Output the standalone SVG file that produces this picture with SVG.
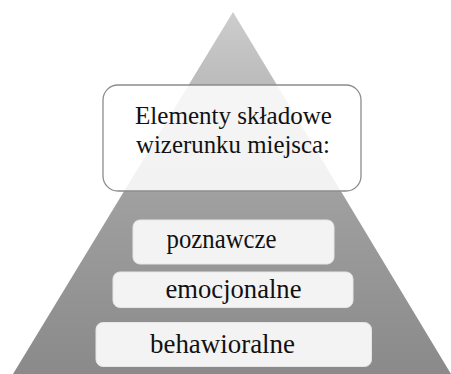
<svg xmlns="http://www.w3.org/2000/svg" width="451" height="374" viewBox="0 0 451 374">
<defs>
<linearGradient id="pg" x1="0" y1="0" x2="0" y2="1">
<stop offset="0" stop-color="#cdcdcd"/>
<stop offset="0.5" stop-color="#a0a0a0"/>
<stop offset="1" stop-color="#8a8a8a"/>
</linearGradient>
<style>
.t{font-family:"Liberation Serif","Times New Roman",serif;fill:#111;}
.big{font-size:25.5px;}
.lvl{font-size:27px;}
.lbox{fill:#f3f3f3;stroke:#e6e6e6;stroke-width:1;}
</style>
</defs>
<g id="pyramid">
<polygon points="233,12 13,374 451,374" fill="url(#pg)"/>
</g>
<g id="title">
<rect x="103" y="85" width="258" height="106" rx="15" ry="15" fill="#ffffff" fill-opacity="0.86" stroke="#8c8c8c" stroke-width="1.3"/>
<text class="t big" x="135" y="124" textLength="197" lengthAdjust="spacingAndGlyphs">Elementy składowe</text>
<text class="t big" x="136" y="153" textLength="194" lengthAdjust="spacingAndGlyphs">wizerunku miejsca:</text>
</g>
<g id="poznawcze">
<rect class="lbox" x="133" y="220" width="201" height="44" rx="7" ry="7"/>
<text class="t lvl" x="166.5" y="248" textLength="110" lengthAdjust="spacingAndGlyphs">poznawcze</text>
</g>
<g id="emocjonalne">
<rect class="lbox" x="113" y="272" width="240" height="35.5" rx="7" ry="7"/>
<text class="t lvl" x="165.5" y="298" textLength="136" lengthAdjust="spacingAndGlyphs">emocjonalne</text>
</g>
<g id="behawioralne">
<rect class="lbox" x="96" y="322.5" width="275.5" height="44" rx="7" ry="7"/>
<text class="t lvl" x="150" y="353" textLength="145" lengthAdjust="spacingAndGlyphs">behawioralne</text>
</g>
<g id="connectors"/>
</svg>
